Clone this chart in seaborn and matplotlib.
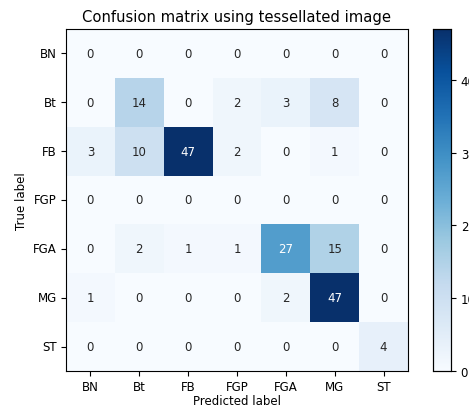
import matplotlib
matplotlib.use("Agg")
import matplotlib.pyplot as plt
import seaborn as sns
import numpy as np

classes = ["BN", "Bt", "FB", "FGP", "FGA", "MG", "ST"]
row_BN = [0, 0, 0, 0, 0, 0, 0]
row_Bt = [0, 14, 0, 2, 3, 8, 0]
row_FB = [3, 10, 47, 2, 0, 1, 0]
row_FGP = [0, 0, 0, 0, 0, 0, 0]
row_FGA = [0, 2, 1, 1, 27, 15, 0]
row_MG = [1, 0, 0, 0, 2, 47, 0]
row_ST = [0, 0, 0, 0, 0, 0, 4]
cbar_ticks = [0, 10, 20, 30, 40]

cm = np.array([row_BN, row_Bt, row_FB, row_FGP, row_FGA, row_MG, row_ST])

plt.rcParams["font.family"] = "DejaVu Sans"
plt.rcParams["font.size"] = 8.5

fig = plt.figure(figsize=(4.69, 4.10), dpi=100)
ax = fig.add_axes([66 / 469, 38 / 410, 342 / 469, 342 / 410])
cax = fig.add_axes([433 / 469, 38 / 410, 18 / 469, 342 / 410])

sns.heatmap(cm, annot=True, fmt="d", cmap="Blues", vmin=0, vmax=cm.max(),
            cbar=True, cbar_ax=cax, ax=ax,
            xticklabels=classes, yticklabels=classes,
            annot_kws={"fontsize": 8.5})

for s in ax.spines.values():
    s.set_visible(True)
    s.set_color("black")
    s.set_linewidth(0.8)
ax.tick_params(axis="both", length=3.5, width=0.8, labelsize=8.5, pad=3)
ax.set_yticklabels(classes, rotation=0)
ax.set_xticklabels(classes, rotation=0)
ax.set_title("Confusion matrix using tessellated image", fontsize=10.6)
ax.set_xlabel("Predicted label", fontsize=8.5, labelpad=1)
ax.set_ylabel("True label", fontsize=8.5)

cax.set_yticks(cbar_ticks)
cax.tick_params(length=3.5, width=0.8, labelsize=8.5)
for s in cax.spines.values():
    s.set_visible(True)
    s.set_linewidth(0.8)

fig.savefig("out.png", dpi=100)
